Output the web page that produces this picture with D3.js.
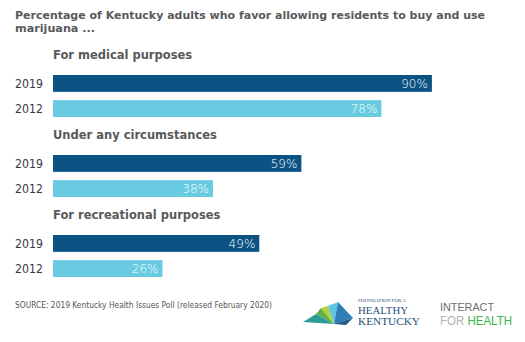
<!DOCTYPE html>
<html><head><meta charset="utf-8">
<script src="https://cdn.jsdelivr.net/npm/d3@7"></script>
<style>body{margin:0;background:#fff}svg{display:block}</style>
</head><body>
<script>
const titleLines = ["Percentage of Kentucky adults who favor allowing residents to buy and use", "marijuana ..."];
const groups = ["For medical purposes", "Under any circumstances", "For recreational purposes"];
const years = ["2019", "2012"];
const values2019 = [90, 59, 49];
const values2012 = [78, 38, 26];
const source = "SOURCE: 2019 Kentucky Health Issues Poll (released February 2020)";

const W = 525, H = 342;
const svg = d3.select("body").append("svg").attr("width", W).attr("height", H);
const colors = {"2019": "#0b5383", "2012": "#68cbe1"};

svg.selectAll("text.title").data(titleLines).join("text")
  .attr("x", 15).attr("y", (d, i) => 18.5 + i * 13)
  .attr("font-family", "DejaVu Sans").attr("font-weight", "bold").attr("font-size", 11.2)
  .attr("fill", "#58595b")
  .attr("textLength", (d, i) => i === 0 ? 470 : null)
  .attr("lengthAdjust", "spacingAndGlyphs")
  .text(d => d);

const x = d3.scaleLinear().domain([0, 100]).range([53, 53 + 421]);
const groupY = d3.scaleBand().domain(groups).range([45, 285]).paddingInner(0);
const rowY = d3.scaleBand().domain(years).range([30, 72]).paddingInner(0.33);

const g = svg.selectAll("g.grp").data(groups.map((name, i) => ({name, vals: [values2019[i], values2012[i]]})))
  .join("g").attr("transform", d => `translate(0,${groupY(d.name)})`);

g.append("text").attr("x", 53).attr("y", 13.5)
  .attr("font-family", "DejaVu Sans").attr("font-weight", "bold").attr("font-size", 11.5)
  .attr("fill", "#58595b").text(d => d.name);

const rows = g.selectAll("g.row").data(d => years.map((y, j) => ({year: y, v: d.vals[j]})))
  .join("g");
rows.append("rect").attr("x", x(0)).attr("y", d => rowY(d.year))
  .attr("width", d => x(d.v) - x(0)).attr("height", rowY.bandwidth())
  .attr("fill", d => colors[d.year]);
rows.append("text").attr("x", 15).attr("y", d => rowY(d.year) + rowY.bandwidth() / 2 + 4.5)
  .attr("font-family", "DejaVu Sans").attr("font-size", 11.5).attr("textLength", 28)
  .attr("lengthAdjust", "spacingAndGlyphs")
  .attr("fill", "#3a3a3a").text(d => d.year);
rows.append("text").attr("x", d => x(d.v) - 4).attr("y", d => rowY(d.year) + rowY.bandwidth() / 2 + 4.5)
  .attr("text-anchor", "end")
  .attr("font-family", "DejaVu Sans").attr("font-weight", 300).attr("font-size", 12)
  .attr("fill", "#fff").text(d => d.v + "%");

svg.append("text").attr("x", 15).attr("y", 308).attr("textLength", 257).attr("lengthAdjust", "spacingAndGlyphs")
  .attr("font-family", "DejaVu Sans").attr("font-size", 9.5).attr("fill", "#555").text(source);

// Foundation logo
const lg = svg.append("g");
const fan = [
  {pts: "303,322 316,314 334,324", c: "#2a9d9a"},
  {pts: "316,314 334,324 321,308", c: "#5fb14a"},
  {pts: "321,308 334,324 328,306", c: "#b3d23b"},
  {pts: "328,306 334,324 338,302", c: "#5ec4e0"},
  {pts: "338,302 334,324 353,318", c: "#2f7fb7"},
  {pts: "353,318 334,324 346,325", c: "#1f5a8f"}
];
lg.selectAll("polygon").data(fan).join("polygon").attr("points", d => d.pts).attr("fill", d => d.c);
lg.append("text").attr("x", 358).attr("y", 302).attr("font-family", "Liberation Serif").attr("font-size", 5)
  .attr("fill", "#1f4f7a").attr("textLength", 48).attr("lengthAdjust", "spacingAndGlyphs").text("FOUNDATION FOR A");
lg.append("text").attr("x", 358).attr("y", 313.5).attr("font-family", "Liberation Serif").attr("font-size", 10.5)
  .attr("fill", "#1f4f7a").attr("textLength", 50).attr("lengthAdjust", "spacingAndGlyphs").text("HEALTHY");
lg.append("text").attr("x", 358).attr("y", 324.5).attr("font-family", "Liberation Serif").attr("font-size", 10.5)
  .attr("fill", "#1f4f7a").attr("textLength", 62).attr("lengthAdjust", "spacingAndGlyphs").text("KENTUCKY");

// Interact logo
svg.append("text").attr("x", 440).attr("y", 311).attr("font-family", "Liberation Sans").attr("font-size", 11.5)
  .attr("fill", "#6d6e71").attr("textLength", 54).attr("lengthAdjust", "spacingAndGlyphs").text("INTERACT");
const t2 = svg.append("text").attr("x", 440).attr("y", 325).attr("font-family", "Liberation Sans").attr("font-size", 12)
  .attr("textLength", 72).attr("lengthAdjust", "spacingAndGlyphs");
t2.append("tspan").attr("fill", "#b1b3b6").text("FOR ");
t2.append("tspan").attr("fill", "#3ab54a").text("HEALTH");
</script>
</body></html>
